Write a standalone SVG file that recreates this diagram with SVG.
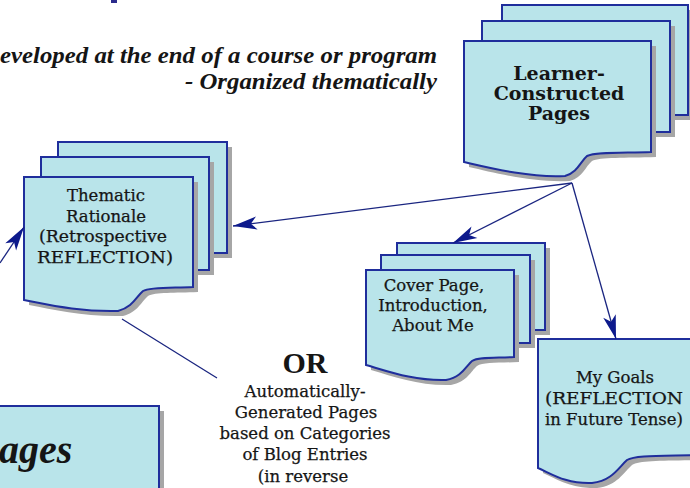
<svg xmlns="http://www.w3.org/2000/svg" width="690" height="488" viewBox="0 0 690 488">
<style>
.pg{fill:#b9e4ea;stroke:#1f2e9c;stroke-width:2;stroke-linejoin:miter}
.sh{fill:#a6a6a6}
.t{font-family:"DejaVu Serif","Liberation Serif",serif;font-size:16.5px;fill:#151515;stroke:#151515;stroke-width:0.25;text-anchor:middle}
.tb{font-family:"DejaVu Serif","Liberation Serif",serif;font-size:19px;font-weight:bold;fill:#151515;text-anchor:middle}
.conn{stroke:#1a2580;stroke-width:1.3;fill:none}
</style>
<defs>
<marker id="ah" markerUnits="userSpaceOnUse" markerWidth="30" markerHeight="18" viewBox="-25 -9 27 18" refX="0" refY="0" orient="auto">
<path d="M0,0 L-24,-6.5 L-18,0 L-24,6.5 Z" fill="#0d1a8c"/>
</marker>
</defs>
<rect width="690" height="488" fill="#ffffff"/>
<rect x="111" y="0" width="6" height="3" fill="#2b2b8c"/>

<g id="header" font-family="Liberation Serif, serif" font-size="24" font-weight="bold" font-style="italic" fill="#151515">
<text x="0" y="63" textLength="437" lengthAdjust="spacingAndGlyphs">eveloped at the end of a course or program</text>
<text x="185" y="89" textLength="252" lengthAdjust="spacingAndGlyphs">- Organized thematically</text>
</g>

<g id="learner">
<rect class="sh" x="507" y="10" width="186" height="110"/>
<rect class="pg" x="502" y="5" width="186" height="110"/>
<rect class="sh" x="487" y="26" width="188" height="111"/>
<rect class="pg" x="482" y="21" width="188" height="111"/>
<path class="sh" transform="translate(5,5)" d="M464,41 H651 V152 C620,153 595,152 587,156 C580,162 578,172 565,176 C530,178 490,168 464,162 Z"/>
<path class="pg" d="M464,41 H651 V152 C620,153 595,152 587,156 C580,162 578,172 565,176 C530,178 490,168 464,162 Z"/>
<text class="tb" x="559" y="80">Learner-</text>
<text class="tb" x="559" y="100">Constructed</text>
<text class="tb" x="559" y="120">Pages</text>
</g>

<g id="thematic">
<rect class="sh" x="63" y="147" width="169" height="111"/>
<rect class="pg" x="58" y="142" width="169" height="111"/>
<rect class="sh" x="46" y="162" width="168" height="113"/>
<rect class="pg" x="41" y="157" width="168" height="113"/>
<path class="sh" transform="translate(5,5)" d="M24,177 H193 V287 C170,288 150,287 143,291 C136,297 133,307 118,311 C80,312 50,305 24,300 Z"/>
<path class="pg" d="M24,177 H193 V287 C170,288 150,287 143,291 C136,297 133,307 118,311 C80,312 50,305 24,300 Z"/>
<text class="t" x="106" y="201" font-size="17">Thematic</text>
<text class="t" x="106" y="221.5" font-size="17">Rationale</text>
<text class="t" x="103" y="242" font-size="17" textLength="128" lengthAdjust="spacingAndGlyphs">(Retrospective</text>
<text class="t" x="105" y="262.5" font-size="17" textLength="136" lengthAdjust="spacingAndGlyphs">REFLECTION)</text>
</g>

<g id="cover">
<rect class="sh" x="402" y="248" width="148" height="87"/>
<rect class="pg" x="397" y="243" width="148" height="87"/>
<rect class="sh" x="386" y="260" width="149" height="88"/>
<rect class="pg" x="381" y="255" width="149" height="88"/>
<path class="sh" transform="translate(5,5)" d="M366,270 H514 V357 C494,358 478,357 472,361 C466,366 462,377 446,380 C415,381 390,372 366,365 Z"/>
<path class="pg" d="M366,270 H514 V357 C494,358 478,357 472,361 C466,366 462,377 446,380 C415,381 390,372 366,365 Z"/>
<text class="t" x="434" y="291">Cover Page,</text>
<text class="t" x="433" y="311">Introduction,</text>
<text class="t" x="433" y="331">About Me</text>
</g>

<g id="goals">
<path class="sh" transform="translate(5,5)" d="M538,339 H700 V455 C660,456 635,455 627,460 C619,467 612,481 592,483 C566,484 552,474 538,468 Z"/>
<path class="pg" d="M538,339 H700 V455 C660,456 635,455 627,460 C619,467 612,481 592,483 C566,484 552,474 538,468 Z"/>
<text class="t" x="615" y="383" font-size="17">My Goals</text>
<text class="t" x="614" y="404" font-size="17" textLength="138" lengthAdjust="spacingAndGlyphs">(REFLECTION</text>
<text class="t" x="614" y="425" font-size="17" textLength="138" lengthAdjust="spacingAndGlyphs">in Future Tense)</text>
</g>

<g id="pages">
<rect class="sh" x="-5" y="411" width="169" height="100"/>
<rect class="pg" x="-10" y="406" width="169" height="100"/>
<text x="-1" y="463" font-family="Liberation Serif, serif" font-size="40" font-weight="bold" font-style="italic" fill="#151515">ages</text>
</g>

<g id="or-note">
<text x="305" y="373" font-family="Liberation Serif, serif" font-size="30" font-weight="bold" fill="#151515" text-anchor="middle">OR</text>
<text class="t" x="305" y="397">Automatically-</text>
<text class="t" x="306" y="418">Generated Pages</text>
<text class="t" x="305" y="439">based on Categories</text>
<text class="t" x="305" y="460">of Blog Entries</text>
<text class="t" x="303" y="482">(in reverse</text>
</g>

<g id="connectors">
<line class="conn" x1="572" y1="183" x2="233" y2="226" marker-end="url(#ah)"/>
<line class="conn" x1="572" y1="183" x2="453" y2="243" marker-end="url(#ah)"/>
<line class="conn" x1="572" y1="183" x2="616" y2="339" marker-end="url(#ah)"/>
<line class="conn" x1="0" y1="263" x2="24" y2="227" marker-end="url(#ah)"/>
<line class="conn" x1="122" y1="319" x2="217" y2="378"/>
</g>
</svg>
